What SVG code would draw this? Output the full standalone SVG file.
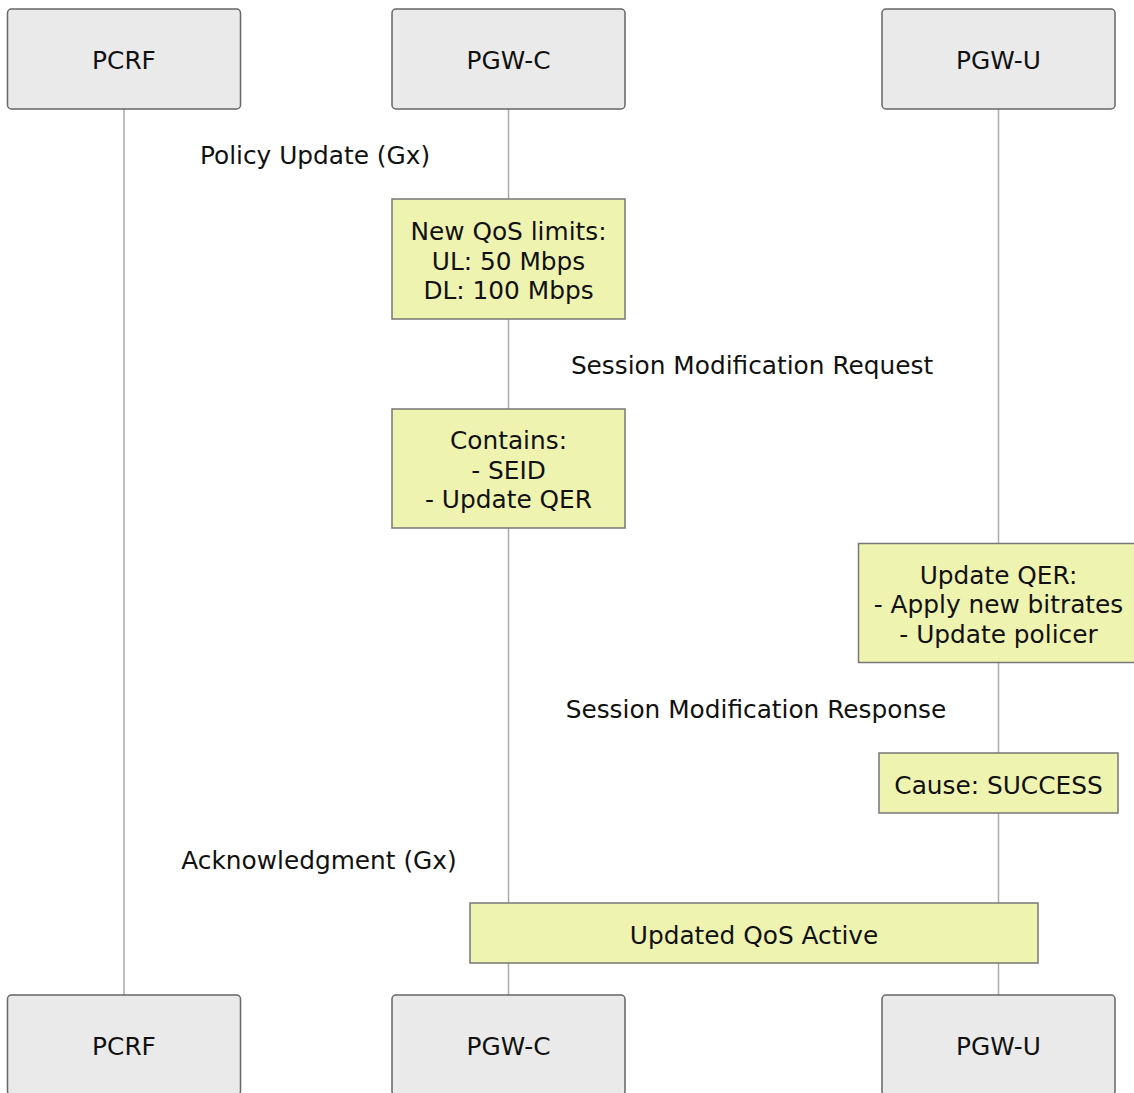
<svg xmlns="http://www.w3.org/2000/svg" width="1134" height="1093" viewBox="0 0 1134 1093">
<style>
.actor{fill:#eaeaea;stroke:#666;stroke-width:1.5}
.note{fill:#eef3b0;stroke:#777;stroke-width:1.5}
.life{stroke:#aaa;stroke-width:1.5;fill:none}
text{font-family:"DejaVu Sans","Liberation Sans",sans-serif;font-size:24.8px;fill:#111;text-anchor:middle}
</style>
<rect width="1134" height="1093" fill="#fff"/>
<g id="lifelines">
<line class="life" x1="124" y1="109" x2="124" y2="995"/>
<line class="life" x1="508.5" y1="109" x2="508.5" y2="995"/>
<line class="life" x1="998.5" y1="109" x2="998.5" y2="995"/>
</g>
<g id="actor-pcrf-top"><rect class="actor" x="7.5" y="9" width="233" height="100" rx="4"/><text x="124" y="69">PCRF</text></g>
<g id="actor-pgwc-top"><rect class="actor" x="392" y="9" width="233" height="100" rx="4"/><text x="508.5" y="69">PGW-C</text></g>
<g id="actor-pgwu-top"><rect class="actor" x="882" y="9" width="233" height="100" rx="4"/><text x="998.5" y="69">PGW-U</text></g>
<g id="connectors">
<text x="315" y="164">Policy Update (Gx)</text>
<text x="752" y="374">Session Modification Request</text>
<text x="756" y="718">Session Modification Response</text>
<text x="319" y="869">Acknowledgment (Gx)</text>
</g>
<g id="note1"><rect class="note" x="392" y="199" width="233" height="120"/><text x="508.5" y="240">New QoS limits:</text><text x="508.5" y="269.5">UL: 50 Mbps</text><text x="508.5" y="299">DL: 100 Mbps</text></g>
<g id="note2"><rect class="note" x="392" y="409" width="233" height="119"/><text x="508.5" y="449">Contains:</text><text x="508.5" y="478.5">- SEID</text><text x="508.5" y="508">- Update QER</text></g>
<g id="note3"><rect class="note" x="858.5" y="543.5" width="281" height="119"/><text x="998.5" y="583.5">Update QER:</text><text x="998.5" y="613">- Apply new bitrates</text><text x="998.5" y="642.5">- Update policer</text></g>
<g id="note4"><rect class="note" x="879" y="753" width="239" height="60"/><text x="998.5" y="794">Cause: SUCCESS</text></g>
<g id="note5"><rect class="note" x="470" y="903" width="568" height="60"/><text x="754" y="944">Updated QoS Active</text></g>
<g id="actor-pcrf-bottom"><rect class="actor" x="7.5" y="995" width="233" height="100" rx="4"/><text x="124" y="1055">PCRF</text></g>
<g id="actor-pgwc-bottom"><rect class="actor" x="392" y="995" width="233" height="100" rx="4"/><text x="508.5" y="1055">PGW-C</text></g>
<g id="actor-pgwu-bottom"><rect class="actor" x="882" y="995" width="233" height="100" rx="4"/><text x="998.5" y="1055">PGW-U</text></g>
</svg>
